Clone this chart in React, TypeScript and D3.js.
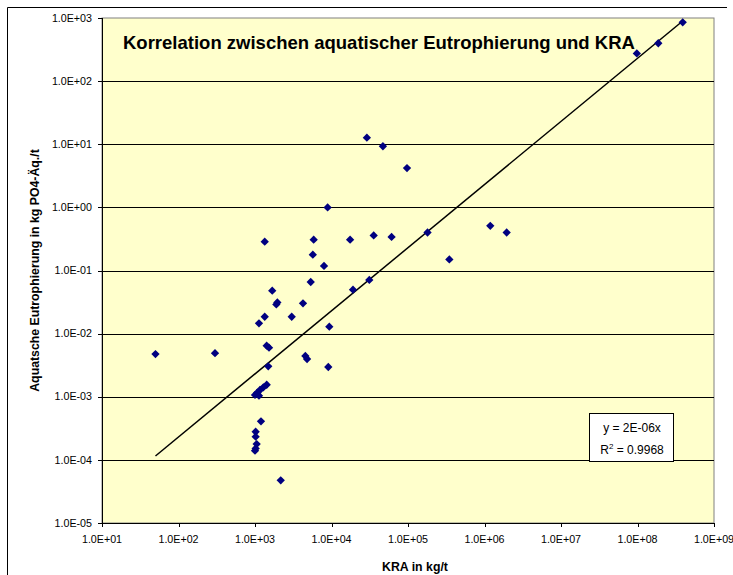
import React from "react";
import * as d3 from "d3";

const kra: number[] = [
  50, 300, 29000, 47000, 97000, 8900, 1340, 5850, 17500, 35600, 61000, 180000,
  347000, 5700, 7980, 5350, 31200, 19100, 1680, 1900, 1960, 4240, 1340, 3020,
  1127, 9360, 1420, 1525, 4550, 4790, 9080, 1490, 1422, 1286, 1161, 1071, 1000,
  1127, 1197, 1020, 1020, 1052, 1020, 1000, 2170, 1190000, 1950000, 98000000,
  187000000, 390000000,
];
const eutro: number[] = [
  4.75e-3, 4.9e-3, 12.7, 9.3, 4.2, 1.0, 0.286, 0.308, 0.308, 0.36, 0.34, 0.4,
  0.15, 0.178, 0.118, 0.0658, 0.0708, 0.0497, 0.0479, 0.029, 0.0312, 0.0302,
  0.0185, 0.0185, 0.01455, 0.0129, 6.44e-3, 5.98e-3, 4.43e-3, 3.96e-3, 2.96e-3,
  3.03e-3, 1.55e-3, 1.41e-3, 1.28e-3, 1.16e-3, 1.07e-3, 1.04e-3, 4.08e-4,
  2.79e-4, 2.33e-4, 1.78e-4, 1.52e-4, 1.4e-4, 4.74e-5, 0.51, 0.4, 275, 398, 855,
];
const xTicks: number[] = [1e1, 1e2, 1e3, 1e4, 1e5, 1e6, 1e7, 1e8, 1e9];
const xTickLabels: string[] = ["1.0E+01", "1.0E+02", "1.0E+03", "1.0E+04", "1.0E+05", "1.0E+06", "1.0E+07", "1.0E+08", "1.0E+09"];
const yTicks: number[] = [1e-5, 1e-4, 1e-3, 1e-2, 1e-1, 1e0, 1e1, 1e2, 1e3];
const yTickLabels: string[] = ["1.0E-05", "1.0E-04", "1.0E-03", "1.0E-02", "1.0E-01", "1.0E+00", "1.0E+01", "1.0E+02", "1.0E+03"];
const trendSlope = 2.3e-6;
const title = "Korrelation zwischen aquatischer Eutrophierung und KRA";
const xTitle = "KRA in kg/t";
const yTitle = "Aquatsche Eutrophierung in kg PO4-Äq./t";

const W = 733;
const H = 575;
const L = 102, R = 714, T = 18, B = 523;
const FONT = "'Liberation Sans', Arial, sans-serif";

export default function App() {
  const x = d3.scaleLog().domain([1e1, 1e9]).range([L, R]);
  const y = d3.scaleLog().domain([1e-5, 1e3]).range([B, T]);
  const xMin = d3.min(kra) as number;
  const xMax = d3.max(kra) as number;
  const trend = d3.line<number>().x((d) => x(d)).y((d) => y(trendSlope * d));
  const diamond = d3.symbol().type(d3.symbolDiamond2).size(44)() as string;

  return (
    <svg width={W} height={H} style={{ position: "absolute", left: 0, top: 0, background: "#fff" }} fontFamily={FONT}>
      <rect x={0} y={0} width={W} height={H} fill="#fff" />
      <line x1={7.5} y1={7.5} x2={727} y2={7.5} stroke="#000" strokeWidth={1} />
      <line x1={7.5} y1={7.5} x2={7.5} y2={H} stroke="#000" strokeWidth={1} />
      <rect x={L} y={T} width={R - L} height={B - T} fill="#FFFFCC" stroke="#808080" strokeWidth={1} />
      {yTicks.slice(1, -1).map((t) => (
        <line key={"g" + t} x1={L} x2={R} y1={Math.round(y(t)) + 0.5} y2={Math.round(y(t)) + 0.5} stroke="#000" strokeWidth={1} />
      ))}
      <line x1={L + 0.5} x2={L + 0.5} y1={T} y2={B + 0.5} stroke="#000" />
      <line x1={L} x2={R + 0.5} y1={B + 0.5} y2={B + 0.5} stroke="#000" />
      {yTicks.map((t, i) => (
        <g key={"y" + t}>
          <line x1={L - 4} x2={L} y1={Math.round(y(t)) + 0.5} y2={Math.round(y(t)) + 0.5} stroke="#000" />
          <text x={92} y={y(t)} dy="0.35em" textAnchor="end" fontSize={10.7}>{yTickLabels[i]}</text>
        </g>
      ))}
      {xTicks.map((t, i) => (
        <g key={"x" + t}>
          <line x1={Math.round(x(t)) + 0.5} x2={Math.round(x(t)) + 0.5} y1={B} y2={B + 4} stroke="#000" />
          <text x={x(t)} y={543} textAnchor="middle" fontSize={10.7}>{xTickLabels[i]}</text>
        </g>
      ))}
      <path d={trend([xMin, xMax]) as string} fill="none" stroke="#000" strokeWidth={1.5} />
      {kra.map((k, i) => (
        <path key={"p" + i} d={diamond} transform={`translate(${x(k)},${y(eutro[i])})`} fill="#000080" />
      ))}
      <text x={123} y={49} fontSize={18.5} fontWeight="bold">{title}</text>
      <text x={415} y={571} textAnchor="middle" fontSize={12.3} fontWeight="bold">{xTitle}</text>
      <text transform={`translate(39,${(T + B) / 2}) rotate(-90)`} textAnchor="middle" fontSize={12.3} fontWeight="bold">{yTitle}</text>
      <rect x={589.5} y={413.5} width={84} height={48} fill="#fff" stroke="#000" />
      <text x={632} y={432} textAnchor="middle" fontSize={12}>y = 2E-06x</text>
      <text x={632} y={454} textAnchor="middle" fontSize={12}>
        R<tspan dy={-5} fontSize={8}>2</tspan><tspan dy={5}> = 0.9968</tspan>
      </text>
    </svg>
  );
}
